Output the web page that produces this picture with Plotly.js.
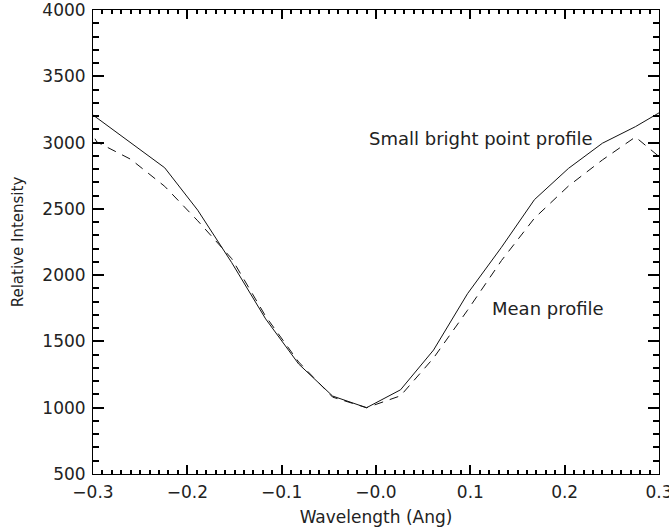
<!DOCTYPE html>
<html>
<head>
<meta charset="utf-8">
<script src="https://cdn.plot.ly/plotly-3.0.1.min.js"></script>
<style>html,body{margin:0;padding:0;background:#fff;}#chart{width:669px;height:529px;}</style>
</head>
<body>
<div id="chart"></div>
<script>
// Wavelength grid (Ang)
const wavelength = [-0.331, -0.296, -0.260, -0.224, -0.189, -0.153, -0.117, -0.082, -0.046, -0.010,
                    0.026, 0.061, 0.097, 0.133, 0.168, 0.204, 0.240, 0.275, 0.311];
// Small bright point profile (solid)
const brightPoint = [3370, 3187, 2997, 2810, 2490, 2095, 1670, 1330, 1088, 1000,
                     1135, 1435, 1860, 2210, 2570, 2805, 2995, 3120, 3270];
// Mean profile (dashed)
const meanProfile = [3450, 3005, 2874, 2670, 2410, 2125, 1690, 1345, 1080, 1000,
                     1090, 1375, 1735, 2110, 2430, 2672, 2869, 3042, 2830];

const xTickVals = [-0.3, -0.2, -0.1, 0, 0.1, 0.2, 0.3];
const xTickText = ['\u22120.3', '\u22120.2', '\u22120.1', '\u22120.0', '0.1', '0.2', '0.3'];

const ink = 'black';
const textInk = '#222';
const font = {family: 'DejaVu Sans, sans-serif', size: 17, color: textInk};

const traces = [
  {x: wavelength, y: brightPoint, type: 'scatter', mode: 'lines',
   line: {color: '#111', width: 1}, hoverinfo: 'skip', name: 'Small bright point profile'},
  {x: wavelength, y: meanProfile, type: 'scatter', mode: 'lines',
   line: {color: '#111', width: 1, dash: '9px,7px'}, hoverinfo: 'skip', name: 'Mean profile'}
];

const layout = {
  width: 669, height: 529,
  margin: {l: 93, r: 10, t: 10, b: 55},
  showlegend: false,
  font: {family: font.family, size: 17, color: textInk},
  xaxis: {
    range: [-0.3, 0.3], showgrid: false, zeroline: false,
    showline: true, linecolor: ink, mirror: 'ticks',
    ticks: 'inside', ticklen: 9, tickwidth: 1.5, tickcolor: ink,
    tickmode: 'array', tickvals: xTickVals, ticktext: xTickText,
    ticklabeloverflow: 'allow', ticklabelstandoff: 3,
    minor: {ticks: 'inside', ticklen: 4, dtick: 0.01},
    title: {text: 'Wavelength (Ang)', font: {family: font.family, size: 17, color: textInk}, standoff: 9},
    tickfont: {family: font.family, size: 17, color: textInk}
  },
  yaxis: {
    range: [500, 4000], showgrid: false, zeroline: false,
    showline: true, linecolor: ink, mirror: 'ticks',
    ticks: 'inside', ticklen: 11, tickwidth: 1.5, tickcolor: ink,
    tickmode: 'linear', tick0: 500, dtick: 500,
    ticklabeloverflow: 'allow', ticklabelstandoff: 3,
    minor: {ticks: 'inside', ticklen: 6, dtick: 100},
    title: {text: 'Relative Intensity', font: {family: font.family, size: 15, color: textInk}, standoff: 15},
    tickfont: {family: font.family, size: 17, color: textInk}
  },
  annotations: [
    {x: -0.0095, y: 3034, xref: 'x', yref: 'y', text: 'Small bright point profile',
     showarrow: false, xanchor: 'left', yanchor: 'middle', font: {family: font.family, size: 18, color: textInk}},
    {x: 0.1209, y: 1745, xref: 'x', yref: 'y', text: 'Mean profile',
     showarrow: false, xanchor: 'left', yanchor: 'middle', font: {family: font.family, size: 18, color: textInk}}
  ]
};

Plotly.newPlot('chart', traces, layout, {displayModeBar: false});
</script>
</body>
</html>
